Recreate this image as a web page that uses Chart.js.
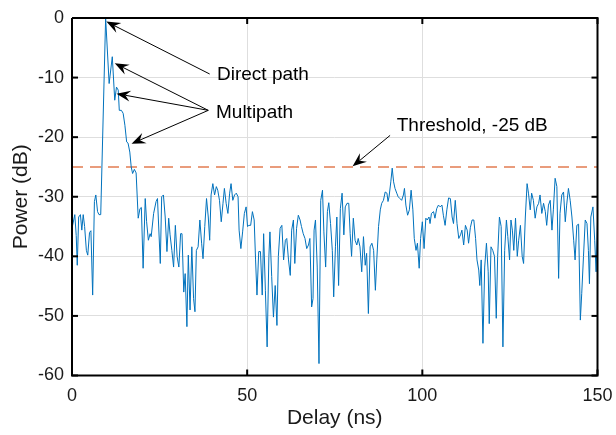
<!DOCTYPE html>
<html>
<head>
<meta charset="utf-8">
<script src="https://cdn.jsdelivr.net/npm/chart.js@4.4.1/dist/chart.umd.min.js"></script>
<style>
  html, body { margin: 0; padding: 0; background: #fff; }
  #wrap { width: 616px; height: 435px; }
</style>
</head>
<body>
<div id="wrap"><canvas id="pdpChart" width="616" height="435"></canvas></div>
<script>
const delayNs = [
  0.0, 0.8, 1.2, 1.5, 1.9, 2.4, 2.8, 3.2, 3.6, 4.1,
  4.5, 5.0, 5.4, 5.9, 6.4, 6.8, 7.3, 7.7, 8.2, 9.6,
  10.6, 11.5, 12.2, 12.7, 13.2, 13.5, 14.1, 14.6, 15.1, 15.6,
  16.0, 16.5, 16.9, 17.3, 17.8, 18.3, 18.9, 19.4, 19.8, 20.3,
  20.9, 21.3, 21.8, 22.3, 22.6, 23.3, 24.0, 24.4, 25.2, 25.6,
  26.1, 26.6, 27.1, 27.6, 28.0, 28.5, 29.0, 29.5, 30.0, 30.5,
  31.0, 31.4, 31.9, 32.3, 32.8, 33.2, 33.7, 34.2, 34.7, 35.1,
  35.5, 36.0, 36.5, 37.0, 37.4, 37.9, 38.4, 38.9, 39.3, 39.7,
  40.2, 40.7, 41.2, 41.6, 42.1, 42.6, 43.1, 43.5, 44.0, 44.5,
  45.0, 45.4, 45.9, 46.4, 46.9, 47.4, 47.7, 48.2, 48.7, 49.2,
  49.7, 50.1, 50.5, 51.0, 51.5, 52.0, 52.4, 52.8, 53.3, 53.8,
  54.3, 54.7, 55.2, 55.7, 56.2, 56.5, 57.0, 57.5, 58.0, 58.5,
  58.9, 59.4, 59.9, 60.4, 60.9, 61.3, 61.8, 62.3, 62.7, 63.2,
  63.6, 64.1, 64.6, 65.1, 65.5, 66.0, 66.5, 67.0, 67.5, 67.9,
  68.4, 68.8, 69.1, 69.5, 70.0, 70.5, 71.0, 71.5, 71.9, 72.4,
  72.9, 73.3, 73.8, 74.3, 74.7, 75.2, 75.6, 76.1, 76.6, 77.1,
  77.6, 78.0, 78.5, 79.0, 79.4, 79.8, 80.3, 80.8, 81.3, 81.7,
  82.2, 82.7, 83.2, 83.7, 84.1, 84.6, 85.1, 85.6, 86.1, 86.6,
  87.0, 87.5, 88.0, 88.4, 88.9, 89.4, 89.9, 90.2, 90.5, 91.0,
  91.4, 91.8, 92.2, 92.7, 93.1, 93.6, 94.1, 94.6, 94.9, 95.3,
  95.8, 96.3, 96.8, 97.3, 97.7, 98.2, 98.6, 99.1, 99.5, 100.0,
  100.5, 101.0, 101.4, 101.9, 102.2, 102.6, 103.2, 103.6, 104.1, 104.6,
  105.1, 105.6, 106.0, 106.5, 107.0, 107.5, 108.0, 108.5, 108.9, 109.4,
  109.9, 110.4, 110.9, 111.3, 111.8, 112.3, 112.8, 113.2, 113.7, 114.2,
  114.7, 115.2, 115.6, 116.1, 116.4, 116.8, 117.3, 117.8, 118.3, 118.8,
  119.1, 119.6, 120.1, 120.6, 121.1, 121.5, 122.0, 122.5, 123.0, 123.5,
  124.0, 124.4, 124.9, 125.3, 125.7, 126.1, 126.6, 127.1, 127.5, 128.0,
  128.5, 128.9, 129.4, 129.9, 130.3, 130.8, 131.2, 131.7, 132.2, 132.7,
  133.2, 133.6, 134.1, 134.6, 135.1, 135.5, 136.0, 136.5, 137.0, 137.4,
  137.9, 138.4, 138.9, 139.3, 139.8, 140.3, 140.8, 141.2, 141.7, 142.2,
  142.7, 143.2, 143.6, 144.1, 144.6, 145.1, 145.5, 146.0, 146.5, 147.0,
  147.4, 147.7, 148.1, 148.7, 149.2, 149.6, 150.0
];

const powerDb = [
  -35.3, -33, -36.5, -41.5, -33.4, -33, -35.6, -33, -35, -39,
  -39.8, -36, -35.7, -46.5, -30.8, -29.7, -32.5, -33, -33, 0,
  -11, -6.5, -13.8, -11.6, -12.1, -15.5, -15.5, -16, -18, -20.8,
  -21, -22.5, -25, -26.1, -25.4, -26, -33.6, -32, -31.8, -42,
  -30.3, -34.2, -37.3, -36.2, -36.7, -32.8, -30.8, -30.3, -41.2, -30,
  -29.7, -33.4, -39.2, -33.6, -36.4, -39, -41.8, -34.8, -40, -41.8,
  -36.2, -36.2, -46, -42.9, -51.8, -39.8, -49, -38.4, -47.1, -49.3,
  -39, -38.4, -33.9, -37.8, -40.4, -35, -30.3, -33.4, -37.3, -29.7,
  -27.8, -29.7, -28.3, -28.9, -30.6, -34.2, -31.1, -28.6, -31.1, -32.8,
  -29.4, -27.8, -30.6, -29.7, -29.4, -30, -35.6, -38.7, -35.9, -32.8,
  -31.7, -35, -34.8, -34.8, -32.5, -33.9, -40.6, -46.5, -39.2, -39.2,
  -46.5, -36.2, -45.7, -55.2, -40, -35.9, -43.4, -50.2, -44.9, -51.6,
  -40, -35.3, -34.8, -40.6, -37.3, -37, -40.6, -43.2, -35.6, -33.9,
  -41.2, -35.3, -33.1, -33.9, -35, -36.2, -37, -38.7, -38.1, -37,
  -48.5, -47.1, -35.6, -33.9, -41.8, -58, -30.6, -28.9, -35.9, -41.8,
  -32.5, -31, -34.5, -39, -46.8, -38.4, -33.4, -44.9, -32, -29.4,
  -36.4, -31.7, -31.1, -31.1, -36.2, -40, -33.6, -37.3, -38.1, -37,
  -38.4, -42.6, -36.7, -41.5, -39.5, -49.6, -38.4, -37.8, -39, -45.7,
  -40.6, -35, -32.2, -31.1, -30.6, -29.2, -29.4, -30.8, -30, -27.5,
  -25.2, -27.5, -28.6, -29.4, -30, -30.3, -30.6, -29.7, -28.6, -31.4,
  -33.1, -32.2, -28.9, -32.2, -37, -39, -37.8, -42, -37, -34.2,
  -38.7, -33.6, -33.9, -33.4, -34.5, -32.8, -32.5, -33.6, -32, -31.4,
  -31.7, -31.4, -33.1, -34.8, -32.2, -30.2, -30.3, -33.4, -34.5, -30.6,
  -34.5, -37, -36.4, -35.6, -38.1, -34.8, -35.6, -37.8, -35.2, -33.9,
  -33.9, -37, -40.6, -42.3, -44.9, -40.6, -54.6, -41.8, -37.8, -42.6,
  -51.3, -38.4, -39, -40, -50.4, -40, -33.4, -35, -55.2, -39,
  -33.9, -36.7, -40.6, -33.9, -35.6, -39, -33.6, -40, -37.3, -34.8,
  -40, -41.2, -33.4, -27.8, -29.4, -32.2, -29.4, -30.6, -33.6, -31.7,
  -31.1, -29.7, -32.8, -31.1, -32.5, -34.8, -31.4, -30.6, -35.6, -32.2,
  -26.9, -28.3, -43.7, -32.8, -29.7, -29.2, -34.2, -31.4, -28.6, -30.6,
  -33.4, -37.3, -40.6, -34.8, -34.6, -50.7, -46.2, -40, -33.9, -34.5,
  -39, -44.6, -33.4, -31.7, -37.3, -42.6, -34.2
];

const thresholdDb = -25;
const xTicks = [0, 50, 100, 150];
const yTicks = [-60, -50, -40, -30, -20, -10, 0];

// annotation text and arrows, in data coordinates
const noteLabels = ['Direct path', 'Multipath', 'Threshold, -25 dB'];
const noteAnchors = [[41.4, -9.6], [41.1, -15.9], [92.7, -18.1]];
const arrowTails = [[39.3, -9.4], [38.9, -15.5], [38.9, -15.5], [38.9, -15.5], [90.8, -19.7]];
const arrowTips = [[9.8, -0.6], [12.2, -7.6], [12.7, -12.7], [17.0, -21.1], [80.1, -24.9]];

const LINE_BLUE = '#0072BD';
const THRESH_ORANGE = '#e27c52';
const GRID_GRAY = '#dedede';
const FONT = '"Liberation Sans", Arial, Helvetica, sans-serif';

const xMin = xTicks[0], xMax = xTicks[xTicks.length - 1];
const yMin = yTicks[0], yMax = yTicks[yTicks.length - 1];

const tracePoints = delayNs.map((d, i) => ({ x: d, y: powerDb[i] }));
const thresholdPoints = [{ x: xMin, y: thresholdDb }, { x: xMax, y: thresholdDb }];
// closed outline of the axes box, drawn as its own line dataset
const boxPoints = [
  { x: xMin, y: yMax }, { x: xMax, y: yMax }, { x: xMax, y: yMin },
  { x: xMin, y: yMin }, { x: xMin, y: yMax },
];

function tickObjs(arr) {
  return arr.map(v => ({ value: v }));
}

// short ticks pointing inward on every side
function drawInnerTicks(chart) {
  const { ctx, chartArea: a } = chart;
  const xs = chart.scales.x, ys = chart.scales.y;
  const tl = 6;
  ctx.save();
  ctx.fillStyle = '#000000';
  for (const v of xTicks) {
    const px = xs.getPixelForValue(v);
    ctx.fillRect(px - 1, a.bottom - tl, 2, tl);
    ctx.fillRect(px - 1, a.top, 2, tl);
  }
  for (const v of yTicks) {
    const py = ys.getPixelForValue(v);
    ctx.fillRect(a.left, py - 1, tl, 2);
    ctx.fillRect(a.right - tl, py - 1, tl, 2);
  }
  ctx.restore();
}

function drawArrow(ctx, x0, y0, x1, y1) {
  const ang = Math.atan2(y1 - y0, x1 - x0);
  const headLen = 14, headHalf = 5.5, notch = 9;
  const cos = Math.cos(ang), sin = Math.sin(ang);
  ctx.beginPath();
  ctx.moveTo(x0, y0);
  ctx.lineTo(x1 - notch * cos, y1 - notch * sin);
  ctx.stroke();
  ctx.beginPath();
  ctx.moveTo(x1, y1);
  ctx.lineTo(x1 - headLen * cos - headHalf * sin, y1 - headLen * sin + headHalf * cos);
  ctx.lineTo(x1 - notch * cos, y1 - notch * sin);
  ctx.lineTo(x1 - headLen * cos + headHalf * sin, y1 - headLen * sin - headHalf * cos);
  ctx.closePath();
  ctx.fill();
}

function drawNotes(chart) {
  const { ctx, scales } = chart;
  const px = p => [scales.x.getPixelForValue(p[0]), scales.y.getPixelForValue(p[1])];
  ctx.save();
  ctx.strokeStyle = '#000';
  ctx.fillStyle = '#000';
  ctx.lineWidth = 1;
  arrowTails.forEach((t, i) => {
    const [x0, y0] = px(t);
    const [x1, y1] = px(arrowTips[i]);
    drawArrow(ctx, x0, y0, x1, y1);
  });
  ctx.font = '19px ' + FONT;
  ctx.textAlign = 'left';
  ctx.textBaseline = 'middle';
  noteLabels.forEach((txt, i) => {
    const [x, y] = px(noteAnchors[i]);
    ctx.fillText(txt, x, y);
  });
  ctx.restore();
}

new Chart(document.getElementById('pdpChart'), {
  type: 'line',
  data: {
    datasets: [
      {
        label: 'Box',
        data: boxPoints,
        borderColor: '#000000',
        borderWidth: 2,
        borderJoinStyle: 'miter',
        pointRadius: 0,
        tension: 0,
        clip: 4,
        order: -1,
      },
      {
        label: 'PDP',
        data: tracePoints,
        borderColor: LINE_BLUE,
        borderWidth: 1,
        pointRadius: 0,
        tension: 0,
        order: 1,
      },
      {
        label: 'Threshold',
        data: thresholdPoints,
        borderColor: THRESH_ORANGE,
        borderWidth: 1.6,
        borderDash: [11, 7],
        pointRadius: 0,
        order: 2,
      },
    ],
  },
  options: {
    responsive: false,
    animation: false,
    devicePixelRatio: 1,
    layout: { padding: { left: 0, top: 18, right: 18.5, bottom: 0 } },
    plugins: {
      legend: { display: false },
      tooltip: { enabled: false },
    },
    scales: {
      x: {
        type: 'linear',
        min: xMin,
        max: xMax,
        afterBuildTicks: s => { s.ticks = tickObjs(xTicks); },
        afterFit: s => { s.height = 59.5; s.paddingLeft = 0; s.paddingRight = 0; },
        border: { display: false },
        grid: { color: GRID_GRAY, lineWidth: 1, drawTicks: false },
        ticks: {
          padding: 10,
          color: '#1a1a1a',
          font: { family: FONT, size: 18 },
          maxRotation: 0,
        },
        title: {
          display: true,
          text: 'Delay (ns)',
          color: '#1a1a1a',
          font: { family: FONT, size: 21 },
          padding: { top: 0, bottom: 4 },
        },
      },
      y: {
        type: 'linear',
        min: yMin,
        max: yMax,
        afterBuildTicks: s => { s.ticks = tickObjs(yTicks); },
        afterFit: s => { s.width = 72; s.paddingTop = 0; s.paddingBottom = 0; },
        border: { display: false },
        grid: { color: GRID_GRAY, lineWidth: 1, drawTicks: false },
        ticks: {
          padding: 8,
          color: '#1a1a1a',
          font: { family: FONT, size: 18 },
        },
        title: {
          display: true,
          text: 'Power (dB)',
          color: '#1a1a1a',
          font: { family: FONT, size: 21 },
          padding: { top: 9, bottom: 0 },
        },
      },
    },
  },
  plugins: [{ id: 'overlay', afterDraw(chart) { drawInnerTicks(chart); drawNotes(chart); } }],
});
</script>
</body>
</html>
